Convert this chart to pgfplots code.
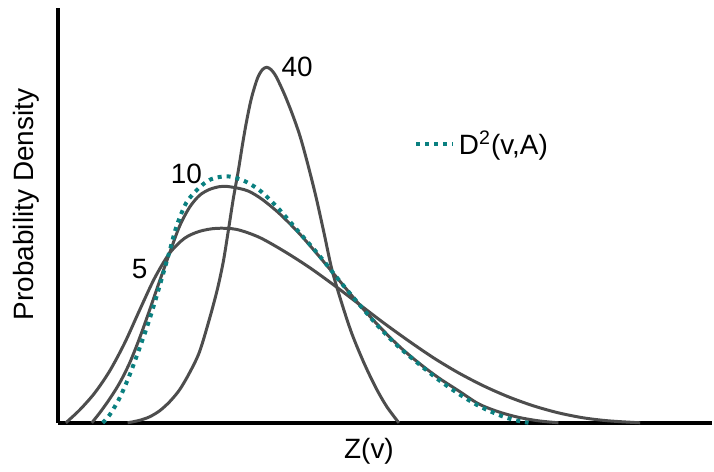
\documentclass[border=0pt]{standalone}
\usepackage{fontspec}
\setmainfont{Liberation Sans}
\usepackage{pgfplots}
\pgfplotsset{compat=1.18}
\definecolor{curvegray}{RGB}{77,77,77}
\definecolor{tealdot}{RGB}{10,128,128}
\begin{document}
\begin{tikzpicture}
\begin{axis}[
  scale only axis,
  width=328pt, height=208pt,
  xmin=58, xmax=714, ymin=0, ymax=416,
  axis lines=left,
  axis line style={-, line width=2pt, black},
  xtick=\empty, ytick=\empty,
  clip=false,
  font=\fontsize{14}{16}\selectfont,
  legend style={at={(0.544,0.671)}, anchor=west, draw=none, fill=none, inner sep=0pt,
     font=\fontsize{14}{16}\selectfont, nodes={inner sep=2pt}},
  legend image code/.code={\draw[#1] (0pt,0pt) -- (18.5pt,0pt);},
  every axis plot/.append style={line width=1.5pt, color=curvegray},
]
% curve 5
\addplot[smooth, forget plot] coordinates {
(66,0)(80,13)(95,30)(110,52)(125,80)(140,113)(155,145)(170,170)(185,185)(200,192)(217,195)(237,194)(260,186)(285,172)(310,156)(335,138)(360,119)(385,100)(410,82)(435,65)(460,50)(485,37)(510,26)(535,17)(560,10)(585,5)(610,2)(642,0)};
% curve 10
\addplot[smooth, forget plot] coordinates {
(92,0)(100,10)(110,24)(120,40)(130,60)(140,85)(150,113)(160,142)(170,170)(180,197)(190,216)(200,228)(210,234)(220,236.8)(228,237)(240,235)(250,232)(263,224)(280,210)(300,190)(320,167)(340,143)(360,119)(380,97)(400,77)(420,60)(440,45)(460,32)(480,19)(500,11)(520,5.5)(540,2)(560,0)};
% curve 40
\addplot[smooth, forget plot] coordinates {
(128,0)(140,2.5)(150,6)(160,12)(170,21)(180,33)(190,50)(200,71)(210,104)(218,134)(224,162)(229,193)(234,225)(239,253)(243,278)(247,301)(252,325)(258,345)(263,354)(267.5,356.5)(272,354)(277,347)(285,330)(293,310)(301,287)(309,258)(317,226)(325,190)(333,153)(343,119)(353,89)(365,60)(377,35)(388,16)(400,0)};
% D^2(v,A)
\addplot[smooth, color=tealdot, line width=2pt, dash pattern=on 2pt off 2.5pt] coordinates {
(103,0)(110,8)(120,25)(130,48)(140,75)(150,104)(160,137)(170,172)(177,197)(187,221)(200,236)(210,243.5)(220,246.5)(230,247)(240,244.5)(250,240)(263,231)(280,214)(300,191)(320,168)(340,143)(360,119)(380,96)(400,76)(420,59)(440,43)(460,29)(480,17)(500,8)(515,3)(530,0)};
\addlegendentry{D\textsuperscript{2}(v,A)}
\node at (axis cs:140,154) {5};
\node at (axis cs:187,250) {10};
\node at (axis cs:298,357) {40};
\node[rotate=90] at (axis cs:26,219) {Probability Density};
\node at (axis cs:370,-29) {Z(v)};
\path (axis cs:0,-44) rectangle (axis cs:714,424);
\end{axis}
\end{tikzpicture}
\end{document}
